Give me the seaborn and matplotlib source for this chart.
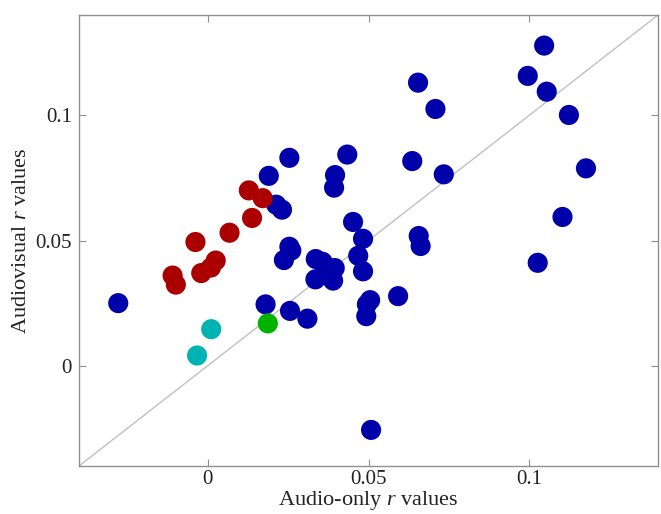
import numpy as np
import pandas as pd
import matplotlib
matplotlib.use('Agg')
import matplotlib.pyplot as plt
import seaborn as sns
from matplotlib.ticker import FixedLocator, FixedFormatter

# Audio-only vs audiovisual correlation values, grouped by colour
blue_x = [-0.0278, 0.0180, 0.0256, 0.0190, 0.0254, 0.0213, 0.0231, 0.0254, 0.0260,
          0.0237, 0.0310, 0.0434, 0.0636, 0.0734, 0.0396, 0.0393, 0.0452, 0.0483,
          0.0656, 0.0662, 0.0468, 0.0483, 0.0336, 0.0357, 0.0395, 0.0365, 0.0335,
          0.0390, 0.0505, 0.0495, 0.0493, 0.0592, 0.1046, 0.0995, 0.1054, 0.1123,
          0.0654, 0.0708, 0.1176, 0.1103, 0.1026, 0.0508]
blue_y = [0.0250, 0.0245, 0.0219, 0.0758, 0.0830, 0.0643, 0.0623, 0.0475, 0.0460,
          0.0422, 0.0188, 0.0843, 0.0817, 0.0764, 0.0761, 0.0711, 0.0574, 0.0507,
          0.0518, 0.0478, 0.0439, 0.0377, 0.0426, 0.0415, 0.0390, 0.0375, 0.0345,
          0.0340, 0.0262, 0.0245, 0.0198, 0.0278, 0.1278, 0.1157, 0.1094, 0.1001,
          0.1130, 0.1025, 0.0788, 0.0594, 0.0411, -0.0256]
red_x = [0.0128, 0.0171, 0.0138, 0.0068, -0.0038, 0.0025, 0.0010, -0.0020, -0.0109, -0.0099]
red_y = [0.0700, 0.0669, 0.0590, 0.0531, 0.0494, 0.0420, 0.0392, 0.0370, 0.0360, 0.0324]
cyan_x = [0.0011, -0.0033]
cyan_y = [0.0146, 0.0041]
green_x = [0.0187]
green_y = [0.0169]

groups = ['blue', 'red', 'cyan', 'green']
colors = {'blue': '#0000aa', 'red': '#aa0000', 'cyan': '#00b3b3', 'green': '#00b300'}

df = pd.concat([
    pd.DataFrame({'audio': blue_x, 'av': blue_y, 'group': 'blue'}),
    pd.DataFrame({'audio': red_x, 'av': red_y, 'group': 'red'}),
    pd.DataFrame({'audio': cyan_x, 'av': cyan_y, 'group': 'cyan'}),
    pd.DataFrame({'audio': green_x, 'av': green_y, 'group': 'green'}),
], ignore_index=True)

sns.set_style('white')
plt.rcParams['font.family'] = ['Liberation Serif', 'DejaVu Serif']
plt.rcParams['mathtext.fontset'] = 'custom'
plt.rcParams['mathtext.rm'] = 'Liberation Serif'
plt.rcParams['mathtext.it'] = 'Liberation Serif:italic'

fig = plt.figure(figsize=(6.61, 5.14), dpi=100)
ax = fig.add_axes([0.1195, 0.0934, 0.876, 0.8774])

lims = [-0.04, 0.14]
ax.plot(lims, lims, color='#c0c0c0', lw=1, zorder=1)

sns.scatterplot(data=df, x='audio', y='av', hue='group', hue_order=groups,
                palette=colors, s=210, linewidth=0, legend=False, ax=ax, zorder=2)

ax.set_xlim(lims)
ax.set_ylim(lims)
ticks = [0, 0.05, 0.1]
labels = ['0', '0.05', '0.1']
ax.xaxis.set_major_locator(FixedLocator(ticks))
ax.xaxis.set_major_formatter(FixedFormatter(labels))
ax.yaxis.set_major_locator(FixedLocator(ticks))
ax.yaxis.set_major_formatter(FixedFormatter(labels))
ax.tick_params(direction='in', length=5, width=0.8, color='#909090',
               labelsize=15, labelcolor='#222222', top=True, right=True,
               bottom=True, left=True)
ax.tick_params(axis='x', pad=3)
ax.tick_params(axis='y', pad=5)
for sp in ax.spines.values():
    sp.set_visible(True)
    sp.set_color('#909090')
    sp.set_linewidth(1)

ax.set_xlabel('Audio-only $r$ values', fontsize=16, color='#222222', labelpad=0)
ax.set_ylabel('Audiovisual $r$ values', fontsize=16, color='#222222', labelpad=3)

fig.savefig('out.png', dpi=100)
